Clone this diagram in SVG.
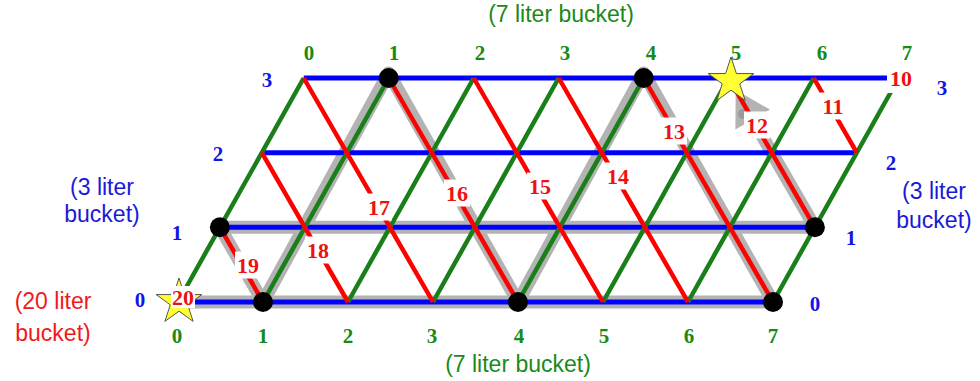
<svg xmlns="http://www.w3.org/2000/svg" xmlns:xlink="http://www.w3.org/1999/xlink" width="980" height="381" viewBox="0 0 980 381">
<style>
.bl{stroke:#0000ff;stroke-width:5;fill:none}
.gr{stroke:#1a7f1a;stroke-width:4.5;fill:none}
.rd{stroke:#ff0000;stroke-width:4.5;fill:none}
.gp{stroke:#b3b3b3;stroke-width:13;fill:none;stroke-linejoin:round}
.num{font-family:"Liberation Serif","Times New Roman",serif;font-weight:bold;font-size:21px;text-anchor:middle}
.ng{fill:#178a17}
.nb{fill:#1414e6}
.nr{fill:#ee1111;font-size:22px}
.bk{font-family:"Liberation Sans",Arial,sans-serif;font-size:23px;text-anchor:middle}
.box{fill:#ffffff}
.dot{fill:#000000}
.star{fill:#ffff33;stroke:#555555;stroke-width:1}
</style>
<defs>
<polygon id="starshape" points="0,-24 5.41,-7.44 22.83,-7.42 8.75,2.84 14.11,19.42 0,9.2 -14.11,19.42 -8.75,2.84 -22.83,-7.42 -5.41,-7.44"/>
</defs>
<rect width="980" height="381" fill="#ffffff"/>
<g id="solution-path">
<polyline class="gp" points="186,302 773,302 643.7,73 518,302 388.7,73 263,302 219.9,227.3 814.9,227.3 752.7,119.6"/>
<polygon points="735.7,90.1 770,109.6 735.4,129.6" fill="#b3b3b3"/>
<circle cx="743" cy="114" r="5" fill="#9a9a9a"/>
</g>
<g id="connectors">
<g id="blue-rows">
<line class="bl" x1="178" y1="302" x2="773" y2="302"/>
<line class="bl" x1="219.9" y1="227.3" x2="814.9" y2="227.3"/>
<line class="bl" x1="261.8" y1="152.7" x2="856.8" y2="152.7"/>
<line class="bl" x1="303.7" y1="78" x2="898.7" y2="78"/>
</g>
<g id="green-lines">
<line class="gr" x1="178" y1="302" x2="303.7" y2="78"/>
<line class="gr" x1="263" y1="302" x2="388.7" y2="78"/>
<line class="gr" x1="348" y1="302" x2="473.7" y2="78"/>
<line class="gr" x1="433" y1="302" x2="558.7" y2="78"/>
<line class="gr" x1="518" y1="302" x2="643.7" y2="78"/>
<line class="gr" x1="603" y1="302" x2="728.7" y2="78"/>
<line class="gr" x1="688" y1="302" x2="813.7" y2="78"/>
<line class="gr" x1="773" y1="302" x2="898.7" y2="78"/>
</g>
<g id="red-lines">
<line class="rd" x1="219.9" y1="227.3" x2="263" y2="302"/>
<line class="rd" x1="261.8" y1="152.7" x2="348" y2="302"/>
<line class="rd" x1="303.7" y1="78" x2="433" y2="302"/>
<line class="rd" x1="388.7" y1="78" x2="518" y2="302"/>
<line class="rd" x1="473.7" y1="78" x2="603" y2="302"/>
<line class="rd" x1="558.7" y1="78" x2="688" y2="302"/>
<line class="rd" x1="643.7" y1="78" x2="773" y2="302"/>
<line class="rd" x1="728.7" y1="78" x2="814.9" y2="227.3"/>
<line class="rd" x1="813.7" y1="78" x2="856.8" y2="152.7"/>
</g>
</g>
<g id="star-goal"><use xlink:href="#starshape" href="#starshape" class="star" transform="translate(731,81)"/></g>
<g id="star-start"><use xlink:href="#starshape" href="#starshape" class="star" transform="translate(179,302)"/></g>
<g id="red-labels">
<g id="r10"><rect class="box" x="887" y="65" width="28" height="28"/><text class="num nr" x="901" y="86">10</text></g>
<g id="r11"><rect class="box" x="820" y="92.5" width="26" height="27"/><text class="num nr" x="833" y="113.5">11</text></g>
<g id="r12"><rect class="box" x="744" y="111.5" width="26" height="27"/><text class="num nr" x="757" y="132.5">12</text></g>
<g id="r13"><rect class="box" x="661" y="117.5" width="26" height="27"/><text class="num nr" x="674" y="138.5">13</text></g>
<g id="r14"><rect class="box" x="605" y="162.5" width="26" height="27"/><text class="num nr" x="618" y="183.5">14</text></g>
<g id="r15"><rect class="box" x="527" y="172.5" width="26" height="27"/><text class="num nr" x="540" y="193.5">15</text></g>
<g id="r16"><rect class="box" x="444" y="179.5" width="26" height="27"/><text class="num nr" x="457" y="200.5">16</text></g>
<g id="r17"><rect class="box" x="366" y="193.5" width="26" height="27"/><text class="num nr" x="379" y="214.5">17</text></g>
<g id="r18"><rect class="box" x="305" y="236.5" width="26" height="27"/><text class="num nr" x="318" y="257.5">18</text></g>
<g id="r19"><rect class="box" x="235" y="251.5" width="26" height="27"/><text class="num nr" x="248" y="272.5">19</text></g>
<g id="r20"><rect class="box" x="171" y="286" width="24" height="22"/><text class="num nr" x="183" y="304.5">20</text></g>
</g>
<g id="states">
<g id="s-1-0"><circle class="dot" cx="263" cy="302" r="10"/></g>
<g id="s-0-1"><circle class="dot" cx="219.9" cy="227.3" r="10"/></g>
<g id="s-1-3"><circle class="dot" cx="388.7" cy="78" r="10"/></g>
<g id="s-4-0"><circle class="dot" cx="518" cy="302" r="10"/></g>
<g id="s-4-3"><circle class="dot" cx="643.7" cy="78" r="10"/></g>
<g id="s-7-0"><circle class="dot" cx="773" cy="302" r="10"/></g>
<g id="s-7-1"><circle class="dot" cx="814.9" cy="227.3" r="10"/></g>
</g>
<g id="axis-labels">
<text class="num ng" x="309" y="60">0</text>
<text class="num ng" x="394" y="60">1</text>
<text class="num ng" x="480" y="60">2</text>
<text class="num ng" x="565" y="60">3</text>
<text class="num ng" x="651" y="60">4</text>
<text class="num ng" x="736" y="60">5</text>
<text class="num ng" x="822" y="60">6</text>
<text class="num ng" x="907" y="60">7</text>
<text class="num ng" x="177" y="343">0</text>
<text class="num ng" x="263" y="343">1</text>
<text class="num ng" x="348" y="343">2</text>
<text class="num ng" x="432" y="343">3</text>
<text class="num ng" x="519" y="343">4</text>
<text class="num ng" x="604" y="343">5</text>
<text class="num ng" x="689" y="343">6</text>
<text class="num ng" x="773" y="343">7</text>
<text class="num nb" x="267" y="87">3</text>
<text class="num nb" x="218" y="161">2</text>
<text class="num nb" x="177" y="240">1</text>
<text class="num nb" x="140" y="307">0</text>
<text class="num nb" x="942" y="95">3</text>
<text class="num nb" x="891" y="170">2</text>
<text class="num nb" x="851" y="245">1</text>
<text class="num nb" x="815" y="311">0</text>
</g>
<g id="bucket-labels">
<text class="bk" fill="#1a8a1a" x="561" y="22">(7 liter bucket)</text>
<text class="bk" fill="#1a8a1a" x="518" y="372">(7 liter bucket)</text>
<text class="bk" fill="#1a1ad6" x="102" y="195">(3 liter</text>
<text class="bk" fill="#1a1ad6" x="102" y="222">bucket)</text>
<text class="bk" fill="#1a1ad6" x="934" y="199">(3 liter</text>
<text class="bk" fill="#1a1ad6" x="934" y="228">bucket)</text>
<text class="bk" fill="#f01a1a" x="53" y="309">(20 liter</text>
<text class="bk" fill="#f01a1a" x="53" y="341">bucket)</text>
</g>
</svg>
